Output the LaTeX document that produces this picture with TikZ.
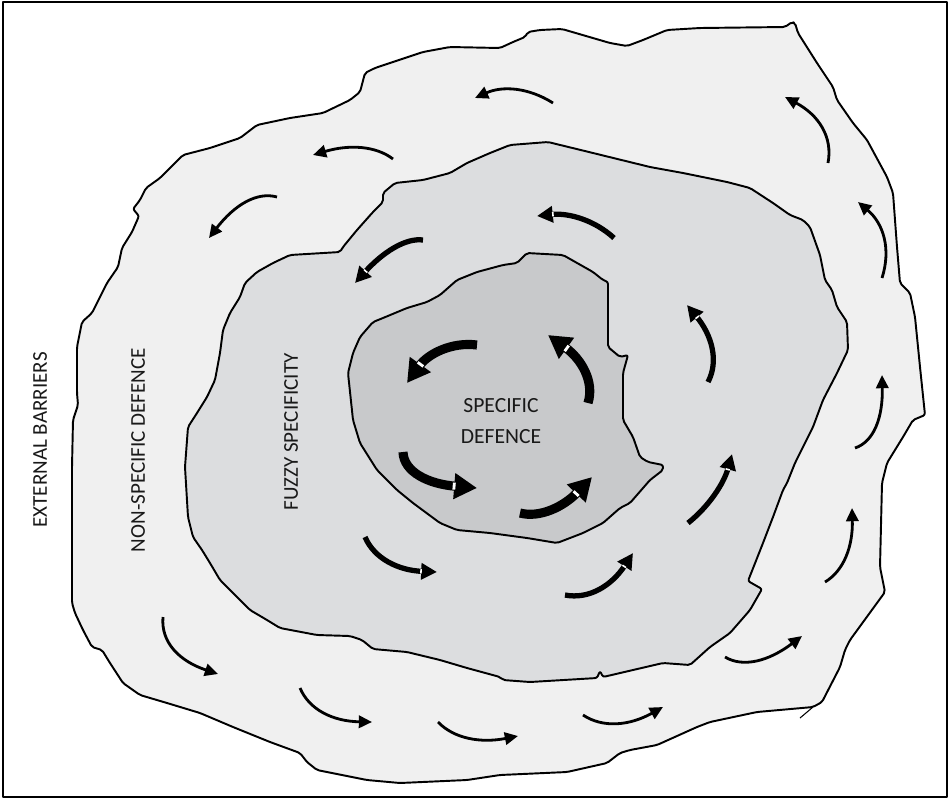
\documentclass[tikz,border=0pt]{standalone}
\usepackage{fontspec}
\setmainfont{Carlito}
\usetikzlibrary{arrows.meta,calc}
\definecolor{outerfill}{RGB}{240,240,240}
\definecolor{midfill}{RGB}{220,221,223}
\definecolor{innerfill}{RGB}{200,201,203}
% curved arrow: style, tail, quadratic control, tip
\newcommand\qarrow[4]{\draw[#1] (#2) .. controls ($(#2)!0.6667!(#3)$) and ($(#4)!0.6667!(#3)$) .. (#4);}
\begin{document}
\begin{tikzpicture}[x=0.02cm,y=-0.02cm, line join=round,
  blob/.style={draw=black, line width=1.1pt, rounded corners=1.2pt},
  thinarrow/.style={line width=1.6pt, -{Triangle[length=7.5pt,width=7pt]}},
  midarrow/.style={line width=3pt, -{Triangle[length=9pt,width=9pt]}},
  bigarrow/.style={line width=5.2pt, -{Triangle[length=13pt,width=14pt]}},
  midnick/.style={draw=white, line width=0.9pt},
  bignick/.style={draw=white, line width=1.6pt},
  sidelabel/.style={font=\fontsize{12}{14}\selectfont, text=black!90, rotate=90, inner sep=0pt},
  centrelabel/.style={font=\fontsize{12.3}{18}\selectfont, text=black!90, align=center, inner sep=0pt}]
\useasboundingbox (0,0) rectangle (950,799);
\fill[white] (0,0) rectangle (950,799);
\draw[line width=0.8pt] (3,2) rectangle (947,797);

% outer zone
\filldraw[blob, fill=outerfill]
 (72,550) -- (72,467) -- (73,420) -- (78,405) -- (77,393) -- (77,347) -- (82,322) -- (92,313)
 -- (100,297) -- (107,283) -- (118,267) -- (122,248) -- (132,232) -- (139,216) -- (133,209)
 -- (140,200) -- (146,188) -- (160,178) -- (183,155) -- (210,148) -- (240,138) -- (257,125)
 -- (290,118) -- (323,113) -- (350,100) -- (360,92) -- (365,73) -- (375,68) -- (423,52)
 -- (450,47) -- (500,48) -- (513,42) -- (525,37) -- (528,32) -- (540,30) -- (562,29)
 -- (610,43) -- (627,46) -- (643,40) -- (667,30) -- (700,28) -- (785,27) -- (792,22)
 -- (795,23) -- (798,33) -- (817,63) -- (833,87) -- (837,100) -- (853,123) -- (867,140)
 -- (887,177) -- (893,193) -- (897,247) -- (900,283) -- (910,293) -- (915,317) -- (920,367)
 -- (925,415) -- (913,420) -- (903,437) -- (887,463) -- (882,483) -- (880,567) -- (885,592)
 -- (850,640) -- (845,650) -- (840,667) -- (822,702) -- (813,707) -- (757,712) -- (710,722)
 -- (697,727) -- (657,745) -- (630,750) -- (620,753) -- (607,763) -- (567,772) -- (500,775)
 -- (467,780) -- (400,783) -- (367,780) -- (317,770) -- (307,762) -- (300,753) -- (270,742)
 -- (233,727) -- (200,713) -- (167,703) -- (140,695) -- (123,683) -- (110,663) -- (102,650)
 -- (92,647) -- (83,630) -- (75,613) -- (72,603) -- cycle;
\draw[line width=0.6pt] (813,707) -- (800,718);

% middle zone
\filldraw[blob, fill=midfill]
 (185,467) -- (188,427) -- (197,413) -- (207,397) -- (215,380) -- (220,353) -- (223,330)
 -- (230,313) -- (240,297) -- (245,283) -- (257,272) -- (273,263) -- (290,255) -- (340,252)
 -- (343,247) -- (357,230) -- (373,212) -- (383,202) -- (383,193) -- (395,183) -- (423,180)
 -- (450,173) -- (467,163) -- (490,153) -- (510,145) -- (548,142) -- (593,153) -- (650,167)
 -- (683,173) -- (727,182) -- (750,188) -- (773,203) -- (790,215) -- (803,220) -- (810,227)
 -- (820,255) -- (825,280) -- (832,290) -- (837,307) -- (847,322) -- (848,350) -- (837,373)
 -- (823,400) -- (813,427) -- (803,447) -- (795,463) -- (787,483) -- (783,490) -- (773,517)
 -- (763,543) -- (748,581) -- (762,589) -- (750,610) -- (730,633) -- (710,647) -- (690,665)
 -- (663,663) -- (633,670) -- (603,677) -- (600,671) -- (597,678) -- (530,682) -- (503,680)
 -- (500,677) -- (467,668) -- (440,660) -- (407,652) -- (373,649) -- (362,640) -- (350,636)
 -- (317,635) -- (280,628) -- (267,620) -- (250,610) -- (233,593) -- (220,580) -- (210,563)
 -- (202,550) -- (193,537) -- (188,517) -- cycle;

% inner zone
\filldraw[blob, fill=innerfill]
 (527,253) -- (563,255) -- (593,272) -- (603,280) -- (608,282) -- (608,347) -- (620,357)
 -- (628,355) -- (623,373) -- (623,420) -- (633,437) -- (640,457) -- (648,462) -- (663,465)
 -- (663,470) -- (650,480) -- (630,503) -- (620,508) -- (603,523) -- (583,533) -- (557,543)
 -- (527,538) -- (490,533) -- (457,530) -- (440,523) -- (413,503) -- (397,490) -- (377,470)
 -- (360,443) -- (353,420) -- (348,373) -- (353,353) -- (360,337) -- (373,322) -- (383,318)
 -- (407,308) -- (427,302) -- (440,295) -- (457,280) -- (477,272) -- (503,265) -- (517,263)
 -- cycle;

% labels
\node[sidelabel] (ext) at (40,440) {EXTERNAL BARRIERS};
\node[sidelabel] (nonspec) at (138,450) {NON-SPECIFIC DEFENCE};
\node[sidelabel] (fuzzy) at (291,432) {FUZZY SPECIFICITY};
\node[centrelabel] (spec) at (501,421) {SPECIFIC\\DEFENCE};

% outer ring arrows
\qarrow{thinarrow}{553,103}{516,79.5}{475,98}
\qarrow{thinarrow}{393,159}{367,139}{313,155}
\qarrow{thinarrow}{277,197}{247,188.5}{209,238}
\qarrow{thinarrow}{828,163}{835.5,124}{785,97}
\qarrow{thinarrow}{882,278}{896,234}{858,202}
\qarrow{thinarrow}{855,448}{883.5,438.5}{882,375}
\qarrow{thinarrow}{825,582}{853.5,565}{852,508}
\qarrow{thinarrow}{725,657}{752.5,673.5}{802,636}
\qarrow{thinarrow}{583,715}{613,735}{663,707}
\qarrow{thinarrow}{438,722}{462,747}{518,736}
\qarrow{thinarrow}{300,688}{314,721}{372,722}
\qarrow{thinarrow}{163,617}{159.5,654.5}{218,674}

% middle ring arrows
\qarrow{midarrow}{614,238}{584.5,211}{537,216}
\qarrow{midarrow}{423,240}{397,236.5}{355,283}
\qarrow{midarrow}{708,382}{724.5,350.5}{687,305}
\qarrow{midarrow}{688,523}{720,497.5}{732,454}
\qarrow{midarrow}{565,595}{601,602}{633,553}
\qarrow{midarrow}{365,537}{379,569.5}{437,572}
\draw[midnick] (553.1,216.5) -- (552.7,212.1);
\draw[midnick] (367.3,272.6) -- (364.1,269.6);
\draw[midnick] (698.9,315.9) -- (695.5,318.7);
\draw[midnick] (729.8,470.0) -- (725.6,468.8);
\draw[midnick] (626.0,567.6) -- (622.4,565.2);
\draw[midnick] (420.9,573.5) -- (421.1,569.1);

% inner arrows
\qarrow{bigarrow}{477,345}{438,340}{407,383}
\qarrow{bigarrow}{588,403}{598,371}{548,335}
\qarrow{bigarrow}{403,452}{404,482}{477,488}
\qarrow{bigarrow}{520,513}{550,521}{592,477}
\draw[bignick] (423.3,366.4) -- (417.7,362.3);
\draw[bignick] (568.7,345.6) -- (564.7,351.2);
\draw[bignick] (453.8,489.6) -- (454.4,482.6);
\draw[bignick] (578.6,496.0) -- (573.6,491.2);
\end{tikzpicture}
\end{document}
